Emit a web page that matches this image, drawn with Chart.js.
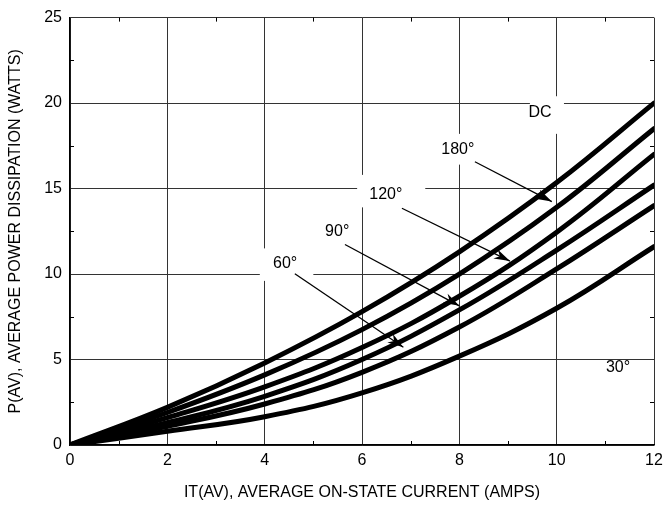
<!DOCTYPE html>
<html>
<head>
<meta charset="utf-8">
<script src="https://cdn.jsdelivr.net/npm/chart.js@4.4.1/dist/chart.umd.min.js"></script>
<style>
  html, body { margin: 0; padding: 0; background: #fff; }
  #wrap { width: 664px; height: 506px; }
</style>
</head>
<body>
<div id="wrap"><canvas id="powerChart"></canvas></div>
<script>
// Current values (amps) where the curves were read
const currents = [0, 2, 4, 6, 8, 10, 12];

// Power dissipation (watts) per conduction angle
const dcWatts   = [0, 2.2, 4.8, 7.8, 11.3, 15.35, 20.0];
const deg180    = [0, 1.9, 4.1, 6.75, 10.0, 13.9, 18.5];
const deg120    = [0, 1.6, 3.4, 5.7, 8.7, 12.45, 17.0];
const deg90     = [0, 1.3, 2.85, 5.0, 7.9, 11.4, 15.2];
const deg60     = [0, 1.1, 2.4, 4.25, 6.9, 10.3, 14.0];
const deg30     = [0, 0.8, 1.65, 3.05, 5.2, 8.0, 11.6];

const seriesNames = ['DC', '180°', '120°', '90°', '60°', '30°'];
const seriesData = [dcWatts, deg180, deg120, deg90, deg60, deg30];

// Curve labels, placed in data units: [text, x, y]
const curveLabels = [
  ['DC', 9.66, 19.45],
  ['180°', 7.97, 17.27],
  ['120°', 6.49, 14.65],
  ['90°', 5.49, 12.5],
  ['60°', 4.42, 10.64],
  ['30°', 11.26, 4.53]
];
// Label white boxes (data units): [x1, y1, x2, y2]
const labelBoxes = [
  [9.45, 18.2, 10.15, 20.4],
  [7.45, 16.4, 8.45, 18.2],
  [5.9, 13.9, 7.3, 15.8],
  [5.0, 11.9, 5.95, 13.1],
  [3.9, 9.6, 5.0, 11.5]
];
// Arrows (data units): [x1, y1, x2, y2], head at second point
const arrows = [
  [8.32, 16.57, 9.90, 14.24],
  [6.82, 13.85, 9.04, 10.76],
  [5.65, 11.73, 8.00, 8.14],
  [4.62, 10.02, 6.85, 5.72]
];

const FONT = '"Liberation Sans", Arial, sans-serif';

const annotatePlugin = {
  id: 'annotate',
  beforeDatasetsDraw(chart) {
    const { ctx, scales: { x, y } } = chart;
    ctx.save();
    ctx.fillStyle = '#fff';
    labelBoxes.forEach(b => {
      const x1 = x.getPixelForValue(b[0]), x2 = x.getPixelForValue(b[2]);
      const y1 = y.getPixelForValue(b[3]), y2 = y.getPixelForValue(b[1]);
      ctx.fillRect(x1, y1, x2 - x1, y2 - y1);
    });
    ctx.restore();
  },
  afterDatasetsDraw(chart) {
    const { ctx, chartArea, scales: { x, y } } = chart;
    ctx.save();
    // minor ticks on all four sides
    ctx.strokeStyle = '#000';
    ctx.lineWidth = 1;
    ctx.beginPath();
    for (let v = 1; v < 12; v += 2) {
      const px = Math.round(x.getPixelForValue(v)) + 0.5;
      ctx.moveTo(px, chartArea.bottom); ctx.lineTo(px, chartArea.bottom - 4);
      ctx.moveTo(px, chartArea.top); ctx.lineTo(px, chartArea.top + 4);
    }
    for (let v = 2.5; v < 25; v += 5) {
      const py = Math.round(y.getPixelForValue(v)) + 0.5;
      ctx.moveTo(chartArea.left, py); ctx.lineTo(chartArea.left + 4, py);
      ctx.moveTo(chartArea.right, py); ctx.lineTo(chartArea.right - 4, py);
    }
    ctx.stroke();

    // arrows
    arrows.forEach(a => {
      const x1 = x.getPixelForValue(a[0]), y1 = y.getPixelForValue(a[1]);
      const x2 = x.getPixelForValue(a[2]), y2 = y.getPixelForValue(a[3]);
      const ang = Math.atan2(y2 - y1, x2 - x1);
      ctx.lineWidth = 1.3;
      ctx.beginPath();
      ctx.moveTo(x1, y1);
      ctx.lineTo(x2, y2);
      ctx.stroke();
      const len = 16, half = 5;
      ctx.beginPath();
      ctx.moveTo(x2, y2);
      ctx.lineTo(x2 - len * Math.cos(ang) + half * Math.sin(ang), y2 - len * Math.sin(ang) - half * Math.cos(ang));
      ctx.lineTo(x2 - len * 0.7 * Math.cos(ang), y2 - len * 0.7 * Math.sin(ang));
      ctx.lineTo(x2 - len * Math.cos(ang) - half * Math.sin(ang), y2 - len * Math.sin(ang) + half * Math.cos(ang));
      ctx.closePath();
      ctx.fillStyle = '#000';
      ctx.fill();
    });

    // labels
    ctx.fillStyle = '#000';
    ctx.font = '16px ' + FONT;
    ctx.textAlign = 'center';
    ctx.textBaseline = 'middle';
    curveLabels.forEach(l => {
      ctx.fillText(l[0], x.getPixelForValue(l[1]), y.getPixelForValue(l[2]));
    });
    ctx.restore();
  }
};

const ctx = document.getElementById('powerChart').getContext('2d');
const powerChart = new Chart(ctx, {
  type: 'line',
  data: {
    datasets: seriesData.map((vals, i) => ({
      label: seriesNames[i],
      data: vals.map((v, j) => ({ x: currents[j], y: v })),
      borderColor: '#000',
      borderWidth: 5,
      borderCapStyle: 'round',
      pointRadius: 0,
      tension: 0.4,
      fill: false
    }))
  },
  options: {
    responsive: true,
    maintainAspectRatio: false,
    animation: false,
    layout: { padding: { top: 15, right: 10, left: 2, bottom: 0 } },
    plugins: {
      legend: { display: false },
      tooltip: { enabled: false }
    },
    scales: {
      x: {
        type: 'linear',
        min: 0,
        max: 12,
        afterFit: function(scale) {
          scale.height = 61;
          scale.paddingLeft = 0;
          scale.paddingRight = 0;
        },
        grid: {
          color: '#333',
          lineWidth: 1,
          drawTicks: false
        },
        border: { color: '#000', width: 1.5 },
        ticks: {
          stepSize: 2,
          padding: 6,
          color: '#000',
          font: { family: FONT, size: 16 }
        },
        title: {
          display: true,
          text: 'IT(AV), AVERAGE ON-STATE CURRENT (AMPS)',
          color: '#000',
          font: { family: FONT, size: 16 },
          padding: { top: 14 }
        }
      },
      y: {
        min: 0,
        max: 25,
        afterFit: function(scale) { scale.width = 68; },
        grid: {
          color: '#333',
          lineWidth: 1,
          drawTicks: false
        },
        border: { color: '#000', width: 1.5 },
        ticks: {
          stepSize: 5,
          padding: 8,
          color: '#000',
          font: { family: FONT, size: 16 }
        },
        title: {
          display: true,
          text: 'P(AV), AVERAGE POWER DISSIPATION (WATTS)',
          color: '#000',
          font: { family: FONT, size: 16 },
          padding: { bottom: 4 }
        }
      }
    }
  },
  plugins: [annotatePlugin]
});
</script>
</body>
</html>
